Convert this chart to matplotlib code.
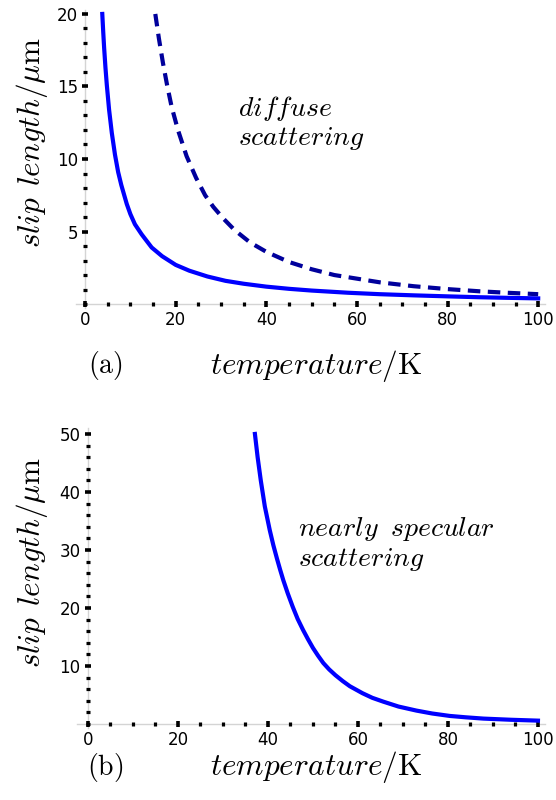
import matplotlib
matplotlib.use("Agg")
import matplotlib.pyplot as plt
from matplotlib.ticker import MultipleLocator

plt.rcParams['mathtext.fontset'] = 'cm'
plt.rcParams['font.family'] = 'DejaVu Sans'

# panel (a): diffuse scattering
temp_a_solid = [3.8, 4.0, 4.2, 4.5, 4.8, 5.3, 5.9, 6.6, 7.3, 8.0, 9.2, 10, 11, 12.5,
                14.7, 17, 20, 23, 27, 31, 35, 40, 45, 50, 58, 65, 72.5, 80, 87, 93, 100]
slip_a_solid = [20, 18.8, 17.7, 16.3, 15.1, 13.4, 11.8, 10.3, 9.1, 8.2, 6.9, 6.2, 5.5, 4.8,
                3.9, 3.3, 2.7, 2.3, 1.9, 1.6, 1.4, 1.2, 1.05, 0.93, 0.78, 0.68, 0.6,
                0.53, 0.47, 0.43, 0.39]
temp_a_dash = [15.5, 16.3, 17.2, 18.1, 19.1, 20.5, 22.4, 24.5, 26.5, 28.3, 30.5, 33,
               36.4, 40, 45, 50, 55, 60, 65, 72.5, 80, 87, 93, 100]
slip_a_dash = [20, 18.3, 16.6, 15.1, 13.6, 12.0, 10.2, 8.7, 7.5, 6.7, 5.9, 5.1,
               4.25, 3.6, 2.9, 2.4, 2.0, 1.75, 1.5, 1.23, 1.03, 0.88, 0.78, 0.68]

# panel (b): nearly specular scattering
temp_b = [37.1, 37.7, 38.4, 39.3, 40.4, 41.2, 42, 42.7, 43.4, 44.4, 45.5, 46.6, 47.8,
          48.9, 50, 51.1, 52.3, 53.6, 55, 56.6, 58.2, 59.6, 61, 63.2, 65.6, 69, 73,
          76.5, 80.4, 84, 87.9, 94, 100]
slip_b = [50, 46, 42, 37.5, 33.4, 30.8, 28.5, 26.6, 24.8, 22.5, 20.2, 18.1, 16.2,
          14.6, 13.1, 11.8, 10.5, 9.4, 8.4, 7.4, 6.5, 5.9, 5.3, 4.5, 3.85, 3.0, 2.3,
          1.8, 1.38, 1.14, 0.92, 0.72, 0.57]

x_ticks = [0, 20, 40, 60, 80, 100]
y_ticks_a = [5, 10, 15, 20]
y_ticks_b = [10, 20, 30, 40, 50]

W, H = 556, 800
fig = plt.figure(figsize=(W / 100, H / 100), dpi=100)


def style_axes(ax, yminor):
    for s in ['top', 'right']:
        ax.spines[s].set_visible(False)
    for s in ['left', 'bottom']:
        ax.spines[s].set_position(('data', 0))
        ax.spines[s].set_color('#d4d4d4')
        ax.spines[s].set_linewidth(1.0)
        ax.spines[s].set_zorder(0)
    ax.xaxis.set_minor_locator(MultipleLocator(5))
    ax.yaxis.set_minor_locator(MultipleLocator(yminor))
    ax.tick_params(which='major', direction='inout', length=4.5, width=2.6,
                   color='black', labelsize=12, pad=3)
    ax.tick_params(which='minor', direction='inout', length=2.4, width=2.3,
                   color='black')
    ax.set_facecolor('none')


# panel (a)
ax1 = fig.add_axes([0.1367, 0.6145, 0.8435, 0.3735])
ax1.plot(temp_a_solid, slip_a_solid, color='#0000ff', lw=3.0, zorder=3)
ax1.plot(temp_a_dash, slip_a_dash, color='#00009c', lw=3.0, dashes=(3, 1.8), zorder=3)
ax1.set_xlim(-2, 101.5)
ax1.set_ylim(-0.3, 20.3)
ax1.set_xticks(x_ticks)
ax1.set_yticks(y_ticks_a)
style_axes(ax1, 1)

# panel (b)
ax2 = fig.add_axes([0.138, 0.09, 0.8417, 0.3748])
ax2.plot(temp_b, slip_b, color='#0000ff', lw=3.0, zorder=3)
ax2.set_xlim(-2.5, 101.5)
ax2.set_ylim(-0.7, 51)
ax2.set_xticks(x_ticks)
ax2.set_yticks(y_ticks_b)
style_axes(ax2, 2)

# labels
ylab = r'$slip\;\,length/\mu\mathrm{m}$'
xlab = r'$temperature/\mathrm{K}$'
fig.text(32 / W, 1 - 142 / H, ylab, rotation=90, ha='center', va='center', fontsize=22.5)
fig.text(32 / W, 1 - 562 / H, ylab, rotation=90, ha='center', va='center', fontsize=22.5)
fig.text(316 / W, 1 - 366 / H, xlab, ha='center', va='center', fontsize=22.5)
fig.text(316 / W, 1 - 767 / H, xlab, ha='center', va='center', fontsize=22.5)
fig.text(105 / W, 1 - 366 / H, r'$\mathrm{(a)}$', ha='center', va='center', fontsize=20)
fig.text(105 / W, 1 - 767 / H, r'$\mathrm{(b)}$', ha='center', va='center', fontsize=20)

# annotations
fs = 20
fig.text(238 / W, 1 - 116 / H, r'$diffuse$', ha='left', va='baseline', fontsize=fs)
fig.text(238 / W, 1 - 145 / H, r'$scattering$', ha='left', va='baseline', fontsize=fs)
fig.text(298 / W, 1 - 536 / H, r'$nearly\;\;specular$', ha='left', va='baseline', fontsize=fs)
fig.text(298 / W, 1 - 566 / H, r'$scattering$', ha='left', va='baseline', fontsize=fs)

fig.savefig('out.png', dpi=100)
